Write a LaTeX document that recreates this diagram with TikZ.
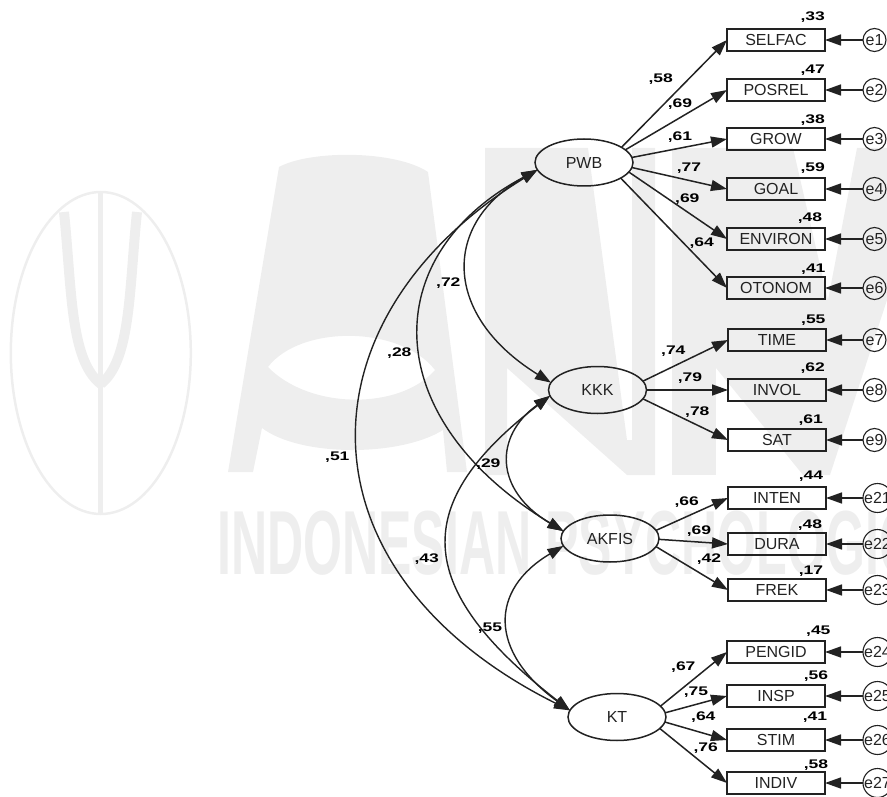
\documentclass[tikz,border=0pt]{standalone}
\usepackage{fontspec}
\setmainfont{Liberation Sans}
\newfontfamily\coeffont[FakeStretch=1.4]{Liberation Sans}
\newfontfamily\markfont[FakeStretch=0.55]{Liberation Sans}
\usepackage{xcolor}
\usetikzlibrary{arrows.meta,positioning,shapes.geometric}
\definecolor{wmark}{HTML}{EEEEEE}
\definecolor{ink}{HTML}{222222}

\begin{document}
\begin{tikzpicture}[
        x=1pt,y=-1pt,
        latent/.style={draw=ink,ellipse,line width=1.5pt,minimum width=98pt,minimum height=47pt,
                       inner sep=0pt,outer sep=0pt,text=ink,font=\fontsize{16}{18}\selectfont},
        indic/.style={draw=ink,line width=1.9pt,minimum width=98pt,minimum height=22pt,
                      inner sep=0pt,outer sep=0pt,text=ink,font=\fontsize{16}{18}\selectfont},
        errc/.style={draw=ink,circle,line width=1.1pt,minimum size=23pt,inner sep=0pt,outer sep=0pt,
                     text=ink,font=\fontsize{16}{18}\selectfont},
        coef/.style={inner sep=0pt,font=\coeffont\bfseries\fontsize{12.5}{14}\selectfont},
        arr/.style={-{Triangle[length=16pt,width=11pt]}, draw=ink, line width=1.5pt},
        covar/.style={{Triangle[length=16pt,width=11pt]}-{Triangle[length=16pt,width=11pt]}, draw=ink, line width=1.4pt}
    ]
      \useasboundingbox (0,0) rectangle (887,797);
      % watermark
      \draw[wmark,line width=2.5pt] (100.8,353) ellipse [x radius=90pt,y radius=161pt];
      \draw[wmark,line width=5pt] (100.8,192) -- (100.8,515);
      \draw[wmark,line width=10pt] (64,212) .. controls (72,290) and (70,360) .. (100.8,384);
      \draw[wmark,line width=10pt] (137,212) .. controls (129,290) and (131,360) .. (100.8,384);
      \fill[wmark,even odd rule] (228,472) -- (279,167) .. controls (310,150) and (395,150) .. (428,172)
        -- (467,472) -- (447,472) -- (443,430) .. controls (400,457) and (300,457) .. (262,428) -- (253,472) -- cycle
        (268,367) .. controls (300,325) and (400,325) .. (435,370) .. controls (400,410) and (310,410) .. cycle;
      \fill[wmark] (485,148) -- (588,148) -- (627,440) -- (632,440) -- (632,148) -- (655,148) -- (655,475)
        -- (627,475) -- (507,368) -- (507,475) -- (485,475) -- cycle;
      \fill[wmark] (672,148) rectangle (716,475);
      \fill[wmark] (716,148) -- (793,148) -- (828,300) -- (857,148) -- (887,148) -- (887,300) -- (830,475)
        -- (803,475) -- (716,368) -- cycle;
      \node[wmark,anchor=west,inner sep=0pt,font=\markfont\bfseries\fontsize{91}{91}\selectfont] (wmtext) at (217,543) {INDONESIAN PSYCHOLOGIC};

      % latent variables
      \node[latent] (PWB) at (584,162.5) {PWB};
      \node[latent] (KKK) at (597.5,390) {KKK};
      \node[latent] (AKFIS) at (610,538.5) {AKFIS};
      \node[latent] (KT) at (617,717) {KT};

      % indicators
      \node[indic] (SELFAC) at (776,40) {SELFAC};
      \node[indic] (POSREL) at (776,90) {POSREL};
      \node[indic] (GROW) at (776,139) {GROW};
      \node[indic] (GOAL) at (776,189) {GOAL};
      \node[indic] (ENVIRON) at (776,239) {ENVIRON};
      \node[indic] (OTONOM) at (776,288) {OTONOM};
      \node[indic] (TIME) at (777,340) {TIME};
      \node[indic] (INVOL) at (777,390) {INVOL};
      \node[indic] (SAT) at (777,440) {SAT};
      \node[indic] (INTEN) at (777,498) {INTEN};
      \node[indic] (DURA) at (777,544) {DURA};
      \node[indic] (FREK) at (777,590) {FREK};
      \node[indic] (PENGID) at (776,652) {PENGID};
      \node[indic] (INSP) at (776,696) {INSP};
      \node[indic] (STIM) at (776,740) {STIM};
      \node[indic] (INDIV) at (776,783) {INDIV};

      % errors
      \node[errc, right=38pt of SELFAC] (e1) {e1};
      \node[errc, right=38pt of POSREL] (e2) {e2};
      \node[errc, right=38pt of GROW] (e3) {e3};
      \node[errc, right=38pt of GOAL] (e4) {e4};
      \node[errc, right=38pt of ENVIRON] (e5) {e5};
      \node[errc, right=38pt of OTONOM] (e6) {e6};
      \node[errc, right=37pt of TIME] (e7) {e7};
      \node[errc, right=37pt of INVOL] (e8) {e8};
      \node[errc, right=37pt of SAT] (e9) {e9};
      \node[errc, right=37pt of INTEN] (e21) {e21};
      \node[errc, right=37pt of DURA] (e22) {e22};
      \node[errc, right=37pt of FREK] (e23) {e23};
      \node[errc, right=38pt of PENGID] (e24) {e24};
      \node[errc, right=38pt of INSP] (e25) {e25};
      \node[errc, right=38pt of STIM] (e26) {e26};
      \node[errc, right=38pt of INDIV] (e27) {e27};

      % error paths
      \draw[arr] (e1) -- (SELFAC);
      \draw[arr] (e2) -- (POSREL);
      \draw[arr] (e3) -- (GROW);
      \draw[arr] (e4) -- (GOAL);
      \draw[arr] (e5) -- (ENVIRON);
      \draw[arr] (e6) -- (OTONOM);
      \draw[arr] (e7) -- (TIME);
      \draw[arr] (e8) -- (INVOL);
      \draw[arr] (e9) -- (SAT);
      \draw[arr] (e21) -- (INTEN);
      \draw[arr] (e22) -- (DURA);
      \draw[arr] (e23) -- (FREK);
      \draw[arr] (e24) -- (PENGID);
      \draw[arr] (e25) -- (INSP);
      \draw[arr] (e26) -- (STIM);
      \draw[arr] (e27) -- (INDIV);

      % loadings
      \draw[arr] (PWB.22.7) -- (SELFAC.west);
      \draw[arr] (PWB.17.5) -- (POSREL.west);
      \draw[arr] (PWB.6.8) -- (GROW.west);
      \draw[arr] (PWB.-6) -- (GOAL.west);
      \draw[arr] (PWB.-12.9) -- (ENVIRON.west);
      \draw[arr] (PWB.-23.6) -- (OTONOM.west);
      \draw[arr] (KKK.11.3) -- (TIME.west);
      \draw[arr] (KKK.0) -- (INVOL.west);
      \draw[arr] (KKK.-11.3) -- (SAT.west);
      \draw[arr] (AKFIS.10) -- (INTEN.west);
      \draw[arr] (AKFIS.-1) -- (DURA.west);
      \draw[arr] (AKFIS.-10.6) -- (FREK.west);
      \draw[arr] (KT.14.7) -- (PENGID.west);
      \draw[arr] (KT.5.4) -- (INSP.west);
      \draw[arr] (KT.-6.5) -- (STIM.west);
      \draw[arr] (KT.-15.9) -- (INDIV.west);

      % covariances
      \draw[covar] (PWB.189) .. controls (442,223) and (442,315) .. (KKK.171);
      \draw[covar] (PWB.189) .. controls (377,255) and (377,418) .. (AKFIS.171);
      \draw[covar] (PWB.189) .. controls (294,320) and (294,573) .. (KT.172.6);
      \draw[covar] (KKK.187) .. controls (411,503) and (411,587) .. (KT.172.6);
      \draw[covar] (KKK.187) .. controls (494,436) and (494,490) .. (AKFIS.171);
      \draw[covar] (AKFIS.189) .. controls (489,590) and (489,652) .. (KT.172.6);

      % squared multiple correlations
      \node[coef] (rSELFAC) at (812.7,16.7) {,33};
      \node[coef] (rPOSREL) at (812.7,70) {,47};
      \node[coef] (rGROW) at (812.7,120) {,38};
      \node[coef] (rGOAL) at (812.7,167.7) {,59};
      \node[coef] (rENVIRON) at (810,218.3) {,48};
      \node[coef] (rOTONOM) at (813.3,269.3) {,41};
      \node[coef] (rTIME) at (813.3,320) {,55};
      \node[coef] (rINVOL) at (812.7,368.3) {,62};
      \node[coef] (rSAT) at (810.7,420) {,61};
      \node[coef] (rINTEN) at (811,476) {,44};
      \node[coef] (rDURA) at (810,525) {,48};
      \node[coef] (rFREK) at (811,571) {,17};
      \node[coef] (rPENGID) at (818.3,631) {,45};
      \node[coef] (rINSP) at (816,675.7) {,56};
      \node[coef] (rSTIM) at (815,717.3) {,41};
      \node[coef] (rINDIV) at (816,764.7) {,58};

      % loading values
      \node[coef] (lSELFAC) at (660.7,79) {,58};
      \node[coef] (lPOSREL) at (680,104) {,69};
      \node[coef] (lGROW) at (680,136.7) {,61};
      \node[coef] (lGOAL) at (689,167.7) {,77};
      \node[coef] (lENVIRON) at (687.3,199.3) {,69};
      \node[coef] (lOTONOM) at (701.7,242.7) {,64};
      \node[coef] (lTIME) at (673.3,350.7) {,74};
      \node[coef] (lINVOL) at (690,377.7) {,79};
      \node[coef] (lSAT) at (697.3,411.7) {,78};
      \node[coef] (lINTEN) at (686.7,501.7) {,66};
      \node[coef] (lDURA) at (699,530.7) {,69};
      \node[coef] (lFREK) at (709,559.3) {,42};
      \node[coef] (lPENGID) at (683.3,666.7) {,67};
      \node[coef] (lINSP) at (696,691.7) {,75};
      \node[coef] (lSTIM) at (703.3,717.3) {,64};
      \node[coef] (lINDIV) at (705.7,748.3) {,76};

      % covariance values
      \node[coef] (cPK) at (448.3,283.3) {,72};
      \node[coef] (cPA) at (399.3,352.7) {,28};
      \node[coef] (cPT) at (337.3,457.3) {,51};
      \node[coef] (cKA) at (488.3,464) {,29};
      \node[coef] (cKT) at (426.7,559.3) {,43};
      \node[coef] (cAT) at (490,627.7) {,55};
    \end{tikzpicture}
\end{document}
